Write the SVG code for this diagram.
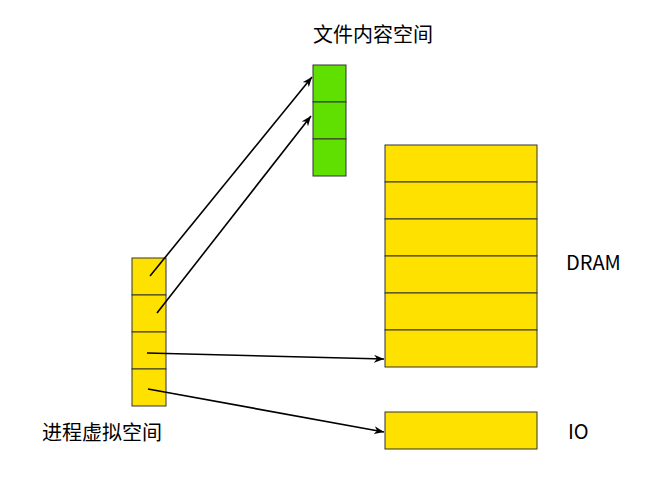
<svg xmlns="http://www.w3.org/2000/svg" width="645" height="480" viewBox="0 0 645 480">
<defs>
<marker id="a" markerWidth="10" markerHeight="8" refX="10" refY="4" orient="auto" markerUnits="userSpaceOnUse"><path d="M0,0 L10,4 L0,8 L3,4 z" fill="#000"/></marker>
<style>
.y{fill:#ffe100;stroke:#333;stroke-width:1}
.g{fill:#5fe000;stroke:#333;stroke-width:1}
.t{font-family:"Noto Sans CJK SC","Noto Sans",sans-serif;font-size:20px;fill:#000}
.c{stroke:#000;stroke-width:1.6;fill:none;marker-end:url(#a)}
</style>
</defs>
<rect width="645" height="480" fill="#fff"/>
<g id="file">
<rect class="g" x="313" y="65" width="33" height="37"/>
<rect class="g" x="313" y="102" width="33" height="37"/>
<rect class="g" x="313" y="139" width="33" height="37"/>
<text class="t" x="373" y="42" text-anchor="middle">文件内容空间</text>
</g>
<g id="proc">
<rect class="y" x="132" y="258" width="34" height="37"/>
<rect class="y" x="132" y="295" width="34" height="37"/>
<rect class="y" x="132" y="332" width="34" height="37"/>
<rect class="y" x="132" y="369" width="34" height="37"/>
<text class="t" x="102" y="440" text-anchor="middle">进程虚拟空间</text>
</g>
<g id="dram">
<rect class="y" x="385" y="145" width="152" height="37"/>
<rect class="y" x="385" y="182" width="152" height="37"/>
<rect class="y" x="385" y="219" width="152" height="37"/>
<rect class="y" x="385" y="256" width="152" height="37"/>
<rect class="y" x="385" y="293" width="152" height="37"/>
<rect class="y" x="385" y="330" width="152" height="37"/>
<text class="t" x="566" y="270">DRAM</text>
</g>
<g id="io">
<rect class="y" x="385" y="412" width="152" height="37"/>
<text class="t" x="568" y="439">IO</text>
</g>
<g id="connectors">
<line class="c" x1="150" y1="276" x2="312" y2="77"/>
<line class="c" x1="157" y1="313" x2="311" y2="116"/>
<line class="c" x1="147" y1="353" x2="384" y2="359"/>
<line class="c" x1="148" y1="389" x2="384" y2="432"/>
</g>
</svg>
